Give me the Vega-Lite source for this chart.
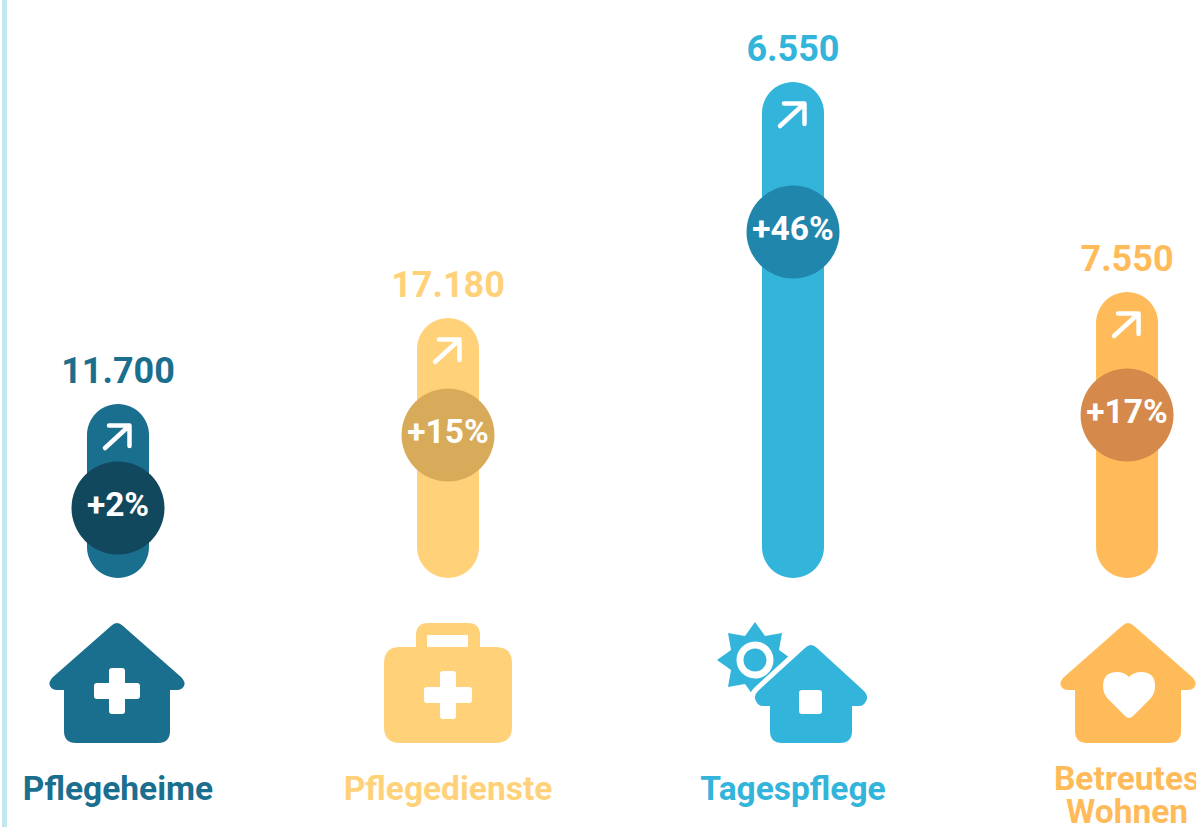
{
"$schema":"https://vega.github.io/schema/vega-lite/v6.json",
"width":1196,"height":827,"padding":0,"autosize":{"type":"none"},"background":"white",
"config":{"view":{"stroke":null},"text":{"font":"Roboto"}},
"resolve":{"scale":{"shape":"independent"}},
"data":{"values":[
{"Rang":1,"Kategorie":"Pflegeheime","Anzahl":"11.700","Prozent":"+2%","Hoehe":174,"Kreis":70},
{"Rang":2,"Kategorie":"Pflegedienste","Anzahl":"17.180","Prozent":"+15%","Hoehe":260,"Kreis":143},
{"Rang":3,"Kategorie":"Tagespflege","Anzahl":"6.550","Prozent":"+46%","Hoehe":496,"Kreis":346},
{"Rang":4,"Kategorie":"Betreutes Wohnen","Anzahl":"7.550","Prozent":"+17%","Hoehe":286,"Kreis":163}
]},
"encoding":{
"x":{"field":"Rang","type":"quantitative","axis":null,"scale":{"domain":[0,1,2,3,4],"range":[0,118,448,793,1133],"nice":false,"zero":false}}
},
"layer":[
{"mark":{"type":"rect","color":"#c4e7ee"},"encoding":{"x":{"datum":0,"type":"quantitative"},"x2":{"datum":0.042}}},
{"mark":{"type":"bar","width":62,"cornerRadius":31,"orient":"vertical"},
"encoding":{
"y":{"field":"Hoehe","type":"quantitative","axis":null,"scale":{"domain":[-249,578],"range":[827,0],"nice":false,"zero":false}},
"y2":{"datum":0},
"color":{"field":"Kategorie","type":"nominal","legend":null,"sort":null,"scale":{"domain":["Pflegeheime","Pflegedienste","Tagespflege","Betreutes Wohnen"],"range":["#1a6e8e","#ffd27a","#33b4da","#ffbb59"]}}}},
{"mark":{"type":"point","shape":"M-13,12 L11,-10 M-9,-10.5 L11.5,-10.5 L11.5,10","size":4,"filled":false,"stroke":"white","strokeWidth":4.5,"strokeCap":"round","strokeJoin":"round","opacity":1},
"encoding":{"y":{"field":"Hoehe","type":"quantitative"},"yOffset":{"value":32}}},
{"mark":{"type":"point","shape":"circle","size":8649,"filled":true,"opacity":1},
"encoding":{"y":{"field":"Kreis","type":"quantitative"},
"fill":{"field":"Kategorie","type":"nominal","legend":null,"scale":{"domain":["Pflegeheime","Pflegedienste","Tagespflege","Betreutes Wohnen"],"range":["#12485e","#d8ab5b","#2186ac","#d5894b"]}}}},
{"mark":{"type":"text","font":"Roboto","fontWeight":"bold","fontSize":33.5,"color":"white","baseline":"middle","align":"center","dy":-2},
"encoding":{"y":{"field":"Kreis","type":"quantitative"},"text":{"field":"Prozent"}}},
{"mark":{"type":"text","font":"Roboto","fontWeight":"bold","fontSize":36,"dy":-32,"baseline":"middle","align":"center"},
"encoding":{"y":{"field":"Hoehe","type":"quantitative"},"text":{"field":"Anzahl"},"color":{"field":"Kategorie","type":"nominal"}}},
{"transform":[{"filter":"datum.Rang==3"}],
"mark":{"type":"point","size":4,"filled":true,"opacity":1,"color":"#33b4da","shape":"M-38,-61 L-28,-47 L-11,-50 L-14,-33 L0,-23 L-14,-13 L-11,4 L-28,1 L-38,15 L-48,1 L-65,4 L-62,-13 L-76,-23 L-62,-33 L-65,-50 L-48,-47 Z M-38,-41.5 A18.5,18.5 0 1 0 -38,-4.5 A18.5,18.5 0 1 0 -38,-41.5 Z M-38,-34.5 A11.5,11.5 0 1 1 -38,-11.5 A11.5,11.5 0 1 1 -38,-34.5 Z"},
"encoding":{"y":{"datum":-105,"type":"quantitative"}}},
{"transform":[{"filter":"datum.Rang==3"}],
"mark":{"type":"point","size":4,"filled":true,"opacity":1,"fill":"white","stroke":"white","strokeWidth":10,"strokeOpacity":1,"shape":"M18,-38 Q21,-38 24,-35 L71,8 Q76,13 73,18 Q71,23 66,23 L59,23 L59,48 Q59,60 47,60 L-11,60 Q-23,60 -23,48 L-23,23 L-30,23 Q-35,23 -37,18 Q-40,13 -35,8 L12,-35 Q15,-38 18,-38 Z"},
"encoding":{"y":{"datum":-105,"type":"quantitative"}}},
{"mark":{"type":"point","size":4,"filled":true,"opacity":1},
"encoding":{"y":{"datum":-105,"type":"quantitative"},
"color":{"field":"Kategorie","type":"nominal"},
"shape":{"field":"Kategorie","type":"nominal","legend":null,"scale":{"domain":["Pflegeheime","Pflegedienste","Tagespflege","Betreutes Wohnen"],"range":[
"M-1,-60 Q2,-60 5,-57 L63,-6 Q68,-1 66,3 Q64,7 59,7 L52,7 L52,48 Q52,60 40,60 L-42,60 Q-54,60 -54,48 L-54,7 L-61,7 Q-66,7 -68,3 Q-70,-1 -65,-6 L-7,-57 Q-4,-60 -1,-60 Z",
"M-20,-60 L20,-60 Q32,-60 32,-48 L32,-36 L48,-36 Q64,-36 64,-20 L64,44 Q64,60 48,60 L-48,60 Q-64,60 -64,44 L-64,-20 Q-64,-36 -48,-36 L-32,-36 L-32,-48 Q-32,-60 -20,-60 Z",
"M18,-38 Q21,-38 24,-35 L71,8 Q76,13 73,18 Q71,23 66,23 L59,23 L59,48 Q59,60 47,60 L-11,60 Q-23,60 -23,48 L-23,23 L-30,23 Q-35,23 -37,18 Q-40,13 -35,8 L12,-35 Q15,-38 18,-38 Z",
"M1,-60 Q4,-60 7,-57 L65,-6 Q70,-1 68,3 Q66,7 61,7 L54,7 L54,48 Q54,60 42,60 L-40,60 Q-52,60 -52,48 L-52,7 L-59,7 Q-64,7 -66,3 Q-68,-1 -63,-6 L-5,-57 Q-2,-60 1,-60 Z"
]}}}},
{"mark":{"type":"point","size":4,"filled":true,"opacity":1,"color":"white"},
"encoding":{"y":{"datum":-105,"type":"quantitative"},
"shape":{"field":"Kategorie","type":"nominal","legend":null,"scale":{"domain":["Pflegeheime","Pflegedienste","Tagespflege","Betreutes Wohnen"],"range":[
"M-6,-15 L4,-15 Q7,-15 7,-12 L7,0 L19,0 Q22,0 22,3 L22,13 Q22,16 19,16 L7,16 L7,28 Q7,31 4,31 L-6,31 Q-9,31 -9,28 L-9,16 L-21,16 Q-24,16 -24,13 L-24,3 Q-24,0 -21,0 L-9,0 L-9,-12 Q-9,-15 -6,-15 Z",
"M-21,-48 L20,-48 L20,-36 L-21,-36 Z M-5,-12 L5,-12 Q8,-12 8,-9 L8,4 L21,4 Q24,4 24,7 L24,17 Q24,20 21,20 L8,20 L8,33 Q8,36 5,36 L-5,36 Q-8,36 -8,33 L-8,20 L-21,20 Q-24,20 -24,17 L-24,7 Q-24,4 -21,4 L-8,4 L-8,-9 Q-8,-12 -5,-12 Z",
"M9,7 L26,7 Q29,7 29,10 L29,28 Q29,31 26,31 L9,31 Q6,31 6,28 L6,10 Q6,7 9,7 Z",
"M2,35 Q0,35 -2,33 L-19,16 Q-24,11 -24,3 Q-24,-11 -10,-11 Q-3,-11 2,-6 Q7,-11 14,-11 Q28,-11 28,3 Q28,11 23,16 L6,33 Q4,35 2,35 Z"
]}}}},
{"transform":[{"filter":"datum.Rang<4"}],
"mark":{"type":"text","font":"Roboto","fontWeight":"bold","fontSize":33.5,"baseline":"middle","align":"center"},
"encoding":{"y":{"datum":-212,"type":"quantitative"},"text":{"field":"Kategorie"},"color":{"field":"Kategorie","type":"nominal"}}},
{"transform":[{"filter":"datum.Rang==4"}],
"mark":{"type":"text","font":"Roboto","fontWeight":"bold","fontSize":33.5,"lineBreak":" ","lineHeight":33,"baseline":"middle","align":"center"},
"encoding":{"y":{"datum":-202,"type":"quantitative"},"text":{"field":"Kategorie"},"color":{"field":"Kategorie","type":"nominal"}}}
]
}
